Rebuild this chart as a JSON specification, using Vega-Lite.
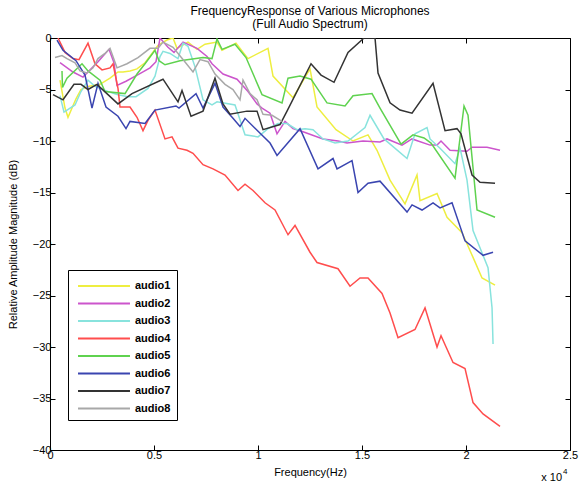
{
  "$schema": "https://vega.github.io/schema/vega-lite/v6.json",
  "autosize": "none",
  "padding": {"left": 50, "top": 38, "right": 10, "bottom": 41},
  "width": 520,
  "height": 412,
  "background": "white",
  "title": {
    "text": ["FrequencyResponse of Various Microphones", "(Full Audio Spectrum)"],
    "fontSize": 12, "fontWeight": "normal", "font": "Liberation Sans", "color": "black",
    "lineHeight": 13, "offset": 1, "anchor": "middle"
  },
  "config": {
    "view": {"stroke": "black", "strokeWidth": 1},
    "axis": {"grid": false, "domain": false, "labelFont": "Liberation Sans", "titleFont": "Liberation Sans", "labelFontSize": 11, "titleFontSize": 11, "titleFontWeight": "normal", "labelColor": "black", "titleColor": "black", "tickColor": "black", "tickSize": -5, "labelPadding": 4}
  },
  "datasets": {
    "curves": [
      {"s":"audio1","hz":481,"db":-4.1},{"s":"audio1","hz":721,"db":-6.8},{"s":"audio1","hz":865,"db":-7.7},{"s":"audio1","hz":1250,"db":-5.9},{"s":"audio1","hz":1490,"db":-5.0},{"s":"audio1","hz":1827,"db":-4.7},{"s":"audio1","hz":2404,"db":-4.5},{"s":"audio1","hz":2885,"db":-3.9},{"s":"audio1","hz":3269,"db":-3.3},{"s":"audio1","hz":3510,"db":-3.3},{"s":"audio1","hz":3846,"db":-3.2},{"s":"audio1","hz":4183,"db":-3.0},{"s":"audio1","hz":4568,"db":-2.4},{"s":"audio1","hz":4904,"db":-1.5},{"s":"audio1","hz":5193,"db":-0.7},{"s":"audio1","hz":5625,"db":-0.2},{"s":"audio1","hz":5914,"db":0},{"s":"audio1","hz":6106,"db":-1.0},{"s":"audio1","hz":6635,"db":-0.4},{"s":"audio1","hz":7068,"db":-1.1},{"s":"audio1","hz":7452,"db":-0.6},{"s":"audio1","hz":8029,"db":-0.4},{"s":"audio1","hz":8270,"db":-1.2},{"s":"audio1","hz":8943,"db":-0.5},{"s":"audio1","hz":9520,"db":-2.0},{"s":"audio1","hz":10481,"db":-1.0},{"s":"audio1","hz":10722,"db":-3.7},{"s":"audio1","hz":11683,"db":-5.8},{"s":"audio1","hz":12501,"db":-3.0},{"s":"audio1","hz":12837,"db":-6.7},{"s":"audio1","hz":13751,"db":-8.9},{"s":"audio1","hz":14568,"db":-10.0},{"s":"audio1","hz":15289,"db":-9.4},{"s":"audio1","hz":15722,"db":-10.9},{"s":"audio1","hz":16347,"db":-13.8},{"s":"audio1","hz":17068,"db":-16.1},{"s":"audio1","hz":17645,"db":-13.3},{"s":"audio1","hz":17790,"db":-15.8},{"s":"audio1","hz":18607,"db":-15.1},{"s":"audio1","hz":19088,"db":-17.4},{"s":"audio1","hz":19809,"db":-18.9},{"s":"audio1","hz":20338,"db":-21.3},{"s":"audio1","hz":20771,"db":-23.3},{"s":"audio1","hz":21396,"db":-24.0},

      {"s":"audio2","hz":481,"db":-2.4},{"s":"audio2","hz":1106,"db":-3.3},{"s":"audio2","hz":1587,"db":-3.8},{"s":"audio2","hz":2308,"db":-2.3},{"s":"audio2","hz":2837,"db":-1.1},{"s":"audio2","hz":3077,"db":-2.4},{"s":"audio2","hz":3221,"db":-4.6},{"s":"audio2","hz":3654,"db":-4.2},{"s":"audio2","hz":4279,"db":-3.5},{"s":"audio2","hz":4808,"db":-2.9},{"s":"audio2","hz":5096,"db":-2.3},{"s":"audio2","hz":5289,"db":0},{"s":"audio2","hz":5673,"db":-0.9},{"s":"audio2","hz":5962,"db":-1.4},{"s":"audio2","hz":6395,"db":-0.4},{"s":"audio2","hz":7068,"db":-1.0},{"s":"audio2","hz":7549,"db":-1.8},{"s":"audio2","hz":7789,"db":-2.5},{"s":"audio2","hz":8318,"db":-3.5},{"s":"audio2","hz":8991,"db":-4.0},{"s":"audio2","hz":9520,"db":-5.2},{"s":"audio2","hz":9953,"db":-6.4},{"s":"audio2","hz":10193,"db":-6.8},{"s":"audio2","hz":10578,"db":-7.3},{"s":"audio2","hz":10914,"db":-9.3},{"s":"audio2","hz":11299,"db":-8.1},{"s":"audio2","hz":11683,"db":-8.8},{"s":"audio2","hz":12164,"db":-9.1},{"s":"audio2","hz":13126,"db":-9.8},{"s":"audio2","hz":13847,"db":-10.0},{"s":"audio2","hz":14280,"db":-10.2},{"s":"audio2","hz":15049,"db":-10.0},{"s":"audio2","hz":15866,"db":-10.1},{"s":"audio2","hz":16203,"db":-9.8},{"s":"audio2","hz":16924,"db":-10.4},{"s":"audio2","hz":17405,"db":-9.8},{"s":"audio2","hz":18270,"db":-10.4},{"s":"audio2","hz":18607,"db":-10.4},{"s":"audio2","hz":18799,"db":-10.0},{"s":"audio2","hz":19232,"db":-10.9},{"s":"audio2","hz":20049,"db":-11.0},{"s":"audio2","hz":20290,"db":-10.6},{"s":"audio2","hz":21011,"db":-10.6},{"s":"audio2","hz":21636,"db":-10.9},

      {"s":"audio3","hz":481,"db":-5.6},{"s":"audio3","hz":673,"db":-7.2},{"s":"audio3","hz":1202,"db":-6.5},{"s":"audio3","hz":1490,"db":-5.2},{"s":"audio3","hz":1827,"db":-4.1},{"s":"audio3","hz":2164,"db":-4.7},{"s":"audio3","hz":2933,"db":-5.3},{"s":"audio3","hz":3269,"db":-5.5},{"s":"audio3","hz":3750,"db":-5.7},{"s":"audio3","hz":4135,"db":-5.7},{"s":"audio3","hz":4712,"db":-4.9},{"s":"audio3","hz":5048,"db":-3.7},{"s":"audio3","hz":5289,"db":-1.8},{"s":"audio3","hz":5433,"db":-1.3},{"s":"audio3","hz":5770,"db":-1.5},{"s":"audio3","hz":6154,"db":-2.0},{"s":"audio3","hz":6395,"db":-0.5},{"s":"audio3","hz":6635,"db":-0.8},{"s":"audio3","hz":6972,"db":-2.8},{"s":"audio3","hz":7356,"db":-6.0},{"s":"audio3","hz":7789,"db":-6.5},{"s":"audio3","hz":8029,"db":-6.2},{"s":"audio3","hz":8895,"db":-6.5},{"s":"audio3","hz":9376,"db":-9.4},{"s":"audio3","hz":10001,"db":-9.6},{"s":"audio3","hz":10481,"db":-8.8},{"s":"audio3","hz":10962,"db":-8.3},{"s":"audio3","hz":11395,"db":-8.3},{"s":"audio3","hz":11876,"db":-8.9},{"s":"audio3","hz":12260,"db":-8.8},{"s":"audio3","hz":12645,"db":-8.9},{"s":"audio3","hz":13126,"db":-9.8},{"s":"audio3","hz":13703,"db":-10.2},{"s":"audio3","hz":14328,"db":-10.0},{"s":"audio3","hz":15145,"db":-8.7},{"s":"audio3","hz":15386,"db":-7.5},{"s":"audio3","hz":16059,"db":-9.8},{"s":"audio3","hz":17165,"db":-11.7},{"s":"audio3","hz":17549,"db":-9.3},{"s":"audio3","hz":18126,"db":-8.7},{"s":"audio3","hz":18270,"db":-9.8},{"s":"audio3","hz":18751,"db":-10.7},{"s":"audio3","hz":19472,"db":-12.2},{"s":"audio3","hz":19713,"db":-10.7},{"s":"audio3","hz":20049,"db":-13.8},{"s":"audio3","hz":20338,"db":-18.7},{"s":"audio3","hz":21059,"db":-22.3},{"s":"audio3","hz":21252,"db":-26.2},{"s":"audio3","hz":21300,"db":-29.7},

      {"s":"audio4","hz":385,"db":0},{"s":"audio4","hz":721,"db":-1.4},{"s":"audio4","hz":1106,"db":-2.0},{"s":"audio4","hz":1394,"db":-2.1},{"s":"audio4","hz":1827,"db":-0.5},{"s":"audio4","hz":2164,"db":-2.5},{"s":"audio4","hz":2500,"db":-3.1},{"s":"audio4","hz":2885,"db":-2.9},{"s":"audio4","hz":3029,"db":-2.5},{"s":"audio4","hz":3269,"db":-4.9},{"s":"audio4","hz":3366,"db":-6.7},{"s":"audio4","hz":3846,"db":-6.7},{"s":"audio4","hz":4183,"db":-7.7},{"s":"audio4","hz":4471,"db":-9.0},{"s":"audio4","hz":4712,"db":-8.0},{"s":"audio4","hz":5048,"db":-7.0},{"s":"audio4","hz":5529,"db":-9.8},{"s":"audio4","hz":5866,"db":-9.6},{"s":"audio4","hz":6154,"db":-10.7},{"s":"audio4","hz":6587,"db":-10.9},{"s":"audio4","hz":6875,"db":-11.2},{"s":"audio4","hz":7356,"db":-12.3},{"s":"audio4","hz":7837,"db":-12.7},{"s":"audio4","hz":8414,"db":-13.3},{"s":"audio4","hz":9039,"db":-14.8},{"s":"audio4","hz":9376,"db":-14.2},{"s":"audio4","hz":9760,"db":-14.8},{"s":"audio4","hz":10337,"db":-16.0},{"s":"audio4","hz":10818,"db":-16.7},{"s":"audio4","hz":11443,"db":-19.1},{"s":"audio4","hz":11780,"db":-18.2},{"s":"audio4","hz":12501,"db":-20.8},{"s":"audio4","hz":12837,"db":-21.8},{"s":"audio4","hz":13847,"db":-22.4},{"s":"audio4","hz":14424,"db":-24.1},{"s":"audio4","hz":14905,"db":-23.3},{"s":"audio4","hz":15289,"db":-23.3},{"s":"audio4","hz":15963,"db":-24.8},{"s":"audio4","hz":16347,"db":-26.7},{"s":"audio4","hz":16732,"db":-29.1},{"s":"audio4","hz":17549,"db":-28.3},{"s":"audio4","hz":18030,"db":-26.2},{"s":"audio4","hz":18607,"db":-30.0},{"s":"audio4","hz":18799,"db":-28.9},{"s":"audio4","hz":19376,"db":-31.5},{"s":"audio4","hz":19953,"db":-32.1},{"s":"audio4","hz":20338,"db":-35.4},{"s":"audio4","hz":20819,"db":-36.5},{"s":"audio4","hz":21636,"db":-37.7},

      {"s":"audio5","hz":577,"db":-3.2},{"s":"audio5","hz":600,"db":-4.8},{"s":"audio5","hz":817,"db":-3.9},{"s":"audio5","hz":1539,"db":-2.5},{"s":"audio5","hz":1827,"db":-3.2},{"s":"audio5","hz":2404,"db":-4.1},{"s":"audio5","hz":2644,"db":-5.2},{"s":"audio5","hz":3606,"db":-5.4},{"s":"audio5","hz":4183,"db":-3.5},{"s":"audio5","hz":4568,"db":-2.5},{"s":"audio5","hz":5048,"db":-1.2},{"s":"audio5","hz":5241,"db":-2.2},{"s":"audio5","hz":5529,"db":-2.6},{"s":"audio5","hz":6250,"db":-2.2},{"s":"audio5","hz":7356,"db":-1.9},{"s":"audio5","hz":7789,"db":-2.0},{"s":"audio5","hz":8029,"db":-0.1},{"s":"audio5","hz":8270,"db":-1.1},{"s":"audio5","hz":8895,"db":-0.6},{"s":"audio5","hz":9424,"db":-1.9},{"s":"audio5","hz":10193,"db":-5.5},{"s":"audio5","hz":11155,"db":-6.3},{"s":"audio5","hz":11443,"db":-3.9},{"s":"audio5","hz":12020,"db":-3.7},{"s":"audio5","hz":12549,"db":-4.0},{"s":"audio5","hz":13318,"db":-6.3},{"s":"audio5","hz":14184,"db":-6.6},{"s":"audio5","hz":14568,"db":-5.6},{"s":"audio5","hz":15482,"db":-5.4},{"s":"audio5","hz":15866,"db":-6.8},{"s":"audio5","hz":16876,"db":-10.3},{"s":"audio5","hz":17453,"db":-9.4},{"s":"audio5","hz":17982,"db":-9.7},{"s":"audio5","hz":18318,"db":-10.2},{"s":"audio5","hz":19472,"db":-13.6},{"s":"audio5","hz":19905,"db":-6.6},{"s":"audio5","hz":20097,"db":-7.5},{"s":"audio5","hz":20530,"db":-16.7},{"s":"audio5","hz":21396,"db":-17.4},

      {"s":"audio6","hz":337,"db":-0.2},{"s":"audio6","hz":625,"db":-1.2},{"s":"audio6","hz":1250,"db":-2.2},{"s":"audio6","hz":1683,"db":-3.6},{"s":"audio6","hz":2019,"db":-6.8},{"s":"audio6","hz":2308,"db":-4.4},{"s":"audio6","hz":2692,"db":-6.7},{"s":"audio6","hz":3269,"db":-7.6},{"s":"audio6","hz":3654,"db":-8.8},{"s":"audio6","hz":3846,"db":-8.1},{"s":"audio6","hz":4568,"db":-8.3},{"s":"audio6","hz":5048,"db":-7.0},{"s":"audio6","hz":6058,"db":-6.6},{"s":"audio6","hz":6202,"db":-6.8},{"s":"audio6","hz":7020,"db":-5.4},{"s":"audio6","hz":7356,"db":-6.8},{"s":"audio6","hz":7933,"db":-4.4},{"s":"audio6","hz":8318,"db":-6.7},{"s":"audio6","hz":8798,"db":-7.8},{"s":"audio6","hz":9135,"db":-8.6},{"s":"audio6","hz":9376,"db":-7.8},{"s":"audio6","hz":10578,"db":-10.2},{"s":"audio6","hz":10914,"db":-11.4},{"s":"audio6","hz":12020,"db":-8.8},{"s":"audio6","hz":12885,"db":-12.7},{"s":"audio6","hz":13607,"db":-11.7},{"s":"audio6","hz":13799,"db":-12.7},{"s":"audio6","hz":14520,"db":-11.9},{"s":"audio6","hz":14809,"db":-15.0},{"s":"audio6","hz":15289,"db":-14.1},{"s":"audio6","hz":15866,"db":-13.9},{"s":"audio6","hz":17165,"db":-16.9},{"s":"audio6","hz":17405,"db":-16.2},{"s":"audio6","hz":17886,"db":-16.7},{"s":"audio6","hz":18415,"db":-16.0},{"s":"audio6","hz":18751,"db":-16.5},{"s":"audio6","hz":19328,"db":-16.0},{"s":"audio6","hz":19953,"db":-19.7},{"s":"audio6","hz":20819,"db":-21.1},{"s":"audio6","hz":21300,"db":-20.8},

      {"s":"audio7","hz":144,"db":-5.5},{"s":"audio7","hz":625,"db":-6.0},{"s":"audio7","hz":1154,"db":-4.5},{"s":"audio7","hz":1490,"db":-4.5},{"s":"audio7","hz":1827,"db":-5.0},{"s":"audio7","hz":2260,"db":-4.5},{"s":"audio7","hz":3269,"db":-6.4},{"s":"audio7","hz":3943,"db":-5.4},{"s":"audio7","hz":5433,"db":-4.0},{"s":"audio7","hz":6154,"db":-6.2},{"s":"audio7","hz":6347,"db":-5.1},{"s":"audio7","hz":6779,"db":-7.6},{"s":"audio7","hz":7356,"db":-7.1},{"s":"audio7","hz":7933,"db":-3.9},{"s":"audio7","hz":8318,"db":-6.4},{"s":"audio7","hz":8654,"db":-7.4},{"s":"audio7","hz":9472,"db":-7.1},{"s":"audio7","hz":9953,"db":-7.1},{"s":"audio7","hz":10241,"db":-8.9},{"s":"audio7","hz":11058,"db":-8.4},{"s":"audio7","hz":11395,"db":-7.1},{"s":"audio7","hz":12549,"db":-2.5},{"s":"audio7","hz":13030,"db":-3.6},{"s":"audio7","hz":13655,"db":-4.3},{"s":"audio7","hz":14328,"db":-1.4},{"s":"audio7","hz":15097,"db":0},{"s":"audio7","hz":15626,"db":0},{"s":"audio7","hz":15770,"db":-3.4},{"s":"audio7","hz":16347,"db":-6.3},{"s":"audio7","hz":16828,"db":-7.0},{"s":"audio7","hz":17405,"db":-7.3},{"s":"audio7","hz":18415,"db":-4.4},{"s":"audio7","hz":18992,"db":-9.0},{"s":"audio7","hz":19568,"db":-8.8},{"s":"audio7","hz":19761,"db":-9.3},{"s":"audio7","hz":20290,"db":-13.3},{"s":"audio7","hz":20674,"db":-14.0},{"s":"audio7","hz":21396,"db":-14.1},

      {"s":"audio8","hz":240,"db":-1.9},{"s":"audio8","hz":577,"db":-1.7},{"s":"audio8","hz":817,"db":-2.0},{"s":"audio8","hz":1202,"db":-2.4},{"s":"audio8","hz":1442,"db":-3.2},{"s":"audio8","hz":1779,"db":-3.4},{"s":"audio8","hz":2067,"db":-2.9},{"s":"audio8","hz":2308,"db":-2.0},{"s":"audio8","hz":2644,"db":-1.5},{"s":"audio8","hz":2885,"db":-1.0},{"s":"audio8","hz":3221,"db":-2.9},{"s":"audio8","hz":3702,"db":-2.5},{"s":"audio8","hz":4231,"db":-1.9},{"s":"audio8","hz":4808,"db":-1.0},{"s":"audio8","hz":5193,"db":-1.0},{"s":"audio8","hz":5433,"db":-0.4},{"s":"audio8","hz":5914,"db":-0.9},{"s":"audio8","hz":6443,"db":-2.2},{"s":"audio8","hz":6875,"db":-3.3},{"s":"audio8","hz":7212,"db":-2.1},{"s":"audio8","hz":7597,"db":-2.3},{"s":"audio8","hz":7933,"db":-3.5},{"s":"audio8","hz":8414,"db":-4.5},{"s":"audio8","hz":8798,"db":-5.0},{"s":"audio8","hz":9135,"db":-6.0},{"s":"audio8","hz":9279,"db":-4.1},{"s":"audio8","hz":9616,"db":-5.4},{"s":"audio8","hz":9953,"db":-6.0},{"s":"audio8","hz":10241,"db":-7.4},{"s":"audio8","hz":10674,"db":-7.5},{"s":"audio8","hz":11155,"db":-8.1}
    ]
  },
  "layer": [
    {
      "data": {"name": "curves"},
      "mark": {"type": "line", "strokeWidth": 1.5, "clip": true},
      "encoding": {
        "x": {"field": "hz", "type": "quantitative",
              "scale": {"domain": [0, 25000], "nice": false},
              "axis": {"values": [0, 5000, 10000, 15000, 20000, 25000], "labelExpr": "datum.value/10000", "title": "Frequency(Hz)", "titlePadding": 6, "labelFlush": false}},
        "y": {"field": "db", "type": "quantitative",
              "scale": {"domain": [-40, 0], "nice": false, "zero": false},
              "axis": {"values": [-40, -35, -30, -25, -20, -15, -10, -5, 0], "title": "Relative Amplitude Magnitude (dB)", "titlePadding": 14, "labelFlush": false}},
        "color": {"field": "s", "type": "nominal",
                  "scale": {"domain": ["audio1","audio2","audio3","audio4","audio5","audio6","audio7","audio8"],
                            "range": ["#eeee40","#cc55cc","#88e3dd","#ff4d4d","#5fd24f","#3a45b0","#333333","#a8a8a8"]},
                  "legend": {"title": null, "orient": "none", "legendX": 18, "legendY": 232,
                             "strokeColor": "black", "fillColor": "white", "padding": 6,
                             "symbolType": "M-3,0H3", "symbolSize": 300, "symbolStrokeWidth": 2,
                             "labelFont": "Liberation Sans", "labelFontSize": 11, "labelFontWeight": "bold", "labelColor": "black",
                             "labelOffset": 21, "symbolOffset": 20, "rowPadding": 2.5}},
        "detail": {"field": "s"}
      }
    },
    {
      "data": {"values": [{"a": 1}]},
      "mark": {"type": "text", "font": "Liberation Sans", "fontSize": 11, "align": "right", "baseline": "middle", "dy": 28, "dx": -8},
      "encoding": {
        "x": {"datum": 25000, "type": "quantitative", "axis": {"orient": "top", "values": [0, 5000, 10000, 15000, 20000, 25000], "labels": false, "title": null}},
        "y": {"datum": -40, "type": "quantitative", "axis": {"orient": "right", "values": [-40, -35, -30, -25, -20, -15, -10, -5, 0], "labels": false, "title": null}},
        "text": {"value": "x 10"}
      }
    },
    {
      "data": {"values": [{"a": 1}]},
      "mark": {"type": "text", "font": "Liberation Sans", "fontSize": 8, "align": "left", "baseline": "middle", "dy": 22, "dx": -7},
      "encoding": {
        "x": {"datum": 25000, "type": "quantitative", "axis": null},
        "y": {"datum": -40, "type": "quantitative", "axis": null},
        "text": {"value": "4"}
      }
    }
  ],
  "resolve": {"axis": {"x": "independent", "y": "independent"}}
}
